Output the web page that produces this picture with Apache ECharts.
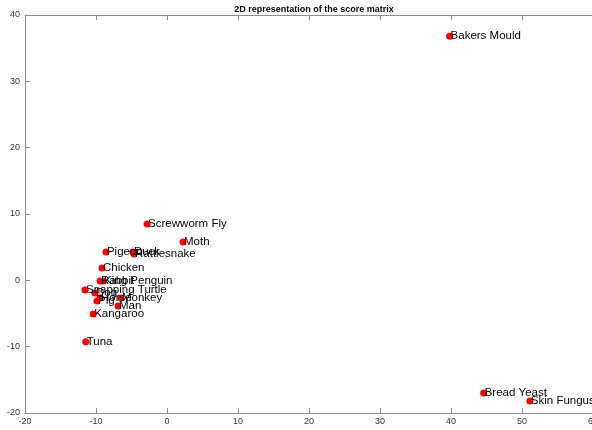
<!DOCTYPE html>
<html>
<head>
<meta charset="utf-8">
<script src="https://cdn.jsdelivr.net/npm/echarts@6/dist/echarts.min.js"></script>
<style>html,body{margin:0;padding:0;background:#fff}#c{width:592px;height:430px}</style>
</head>
<body>
<div id="c"></div>
<script>
var names = ['Bakers Mould','Screwworm Fly','Moth','Pigeon','Duck','Rattlesnake','Chicken','Rabbit','King Penguin','Snapping Turtle','Dog','Horse','Pig','Monkey','Man','Kangaroo','Tuna','Bread Yeast','Skin Fungus'];
var xs = [39.8,-2.8,2.25,-8.6,-4.8,-4.65,-9.16,-9.44,-9.0,-11.55,-10.14,-9.44,-9.86,-6.48,-6.9,-10.4,-11.45,44.6,51.1];
var ys = [36.8,8.48,5.77,4.26,4.26,3.96,1.85,-0.11,-0.1,-1.47,-1.92,-2.68,-3.13,-2.68,-3.88,-5.09,-9.27,-17.0,-18.2];
var xTicks = [-20,-10,0,10,20,30,40,50,60];
var yTicks = [-20,-10,0,10,20,30,40];
var title = '2D representation of the score matrix';

var data = names.map(function(n,i){return {name:n, value:[xs[i], ys[i]]};});
var chart = echarts.init(document.getElementById('c'), null, {renderer:'canvas'});
var axisColor = '#8c8c8c';
chart.setOption({
  animation:false,
  backgroundColor:'#fff',
  title:{text:title,left:309,textAlign:'center',top:0,textStyle:{fontSize:9,fontWeight:'bold',color:'#000',fontFamily:'Liberation Sans'}},
  grid:{left:25,top:15,width:568,height:398,containLabel:false,outerBoundsMode:'none'},
  xAxis:[{type:'value',min:xTicks[0],max:xTicks[xTicks.length-1],interval:10,
    axisLine:{onZero:false,lineStyle:{color:axisColor,width:1}},
    axisTick:{inside:true,length:5,lineStyle:{color:axisColor}},
    axisLabel:{color:'#333',fontSize:9,fontFamily:'Liberation Sans',margin:4},
    splitLine:{show:false}},
   {type:'value',position:'top',min:xTicks[0],max:xTicks[xTicks.length-1],interval:10,
    axisLine:{show:true,onZero:false,lineStyle:{color:axisColor,width:1}},
    axisTick:{inside:true,length:5,lineStyle:{color:axisColor}},
    axisLabel:{show:false},splitLine:{show:false}}],
  yAxis:[{type:'value',min:yTicks[0],max:yTicks[yTicks.length-1],interval:10,
    axisLine:{show:true,onZero:false,lineStyle:{color:axisColor,width:1}},
    axisTick:{show:true,inside:true,length:5,lineStyle:{color:axisColor}},
    axisLabel:{color:'#333',fontSize:9,fontFamily:'Liberation Sans',margin:5},
    splitLine:{show:false}}],
  series:[{type:'scatter',xAxisIndex:0,yAxisIndex:0,data:data,symbol:'circle',symbolSize:7,
    itemStyle:{color:'#ff0000',opacity:1},
    label:{show:true,position:'right',distance:-2.5,formatter:function(p){return p.name;},
      color:'#000',fontSize:11.5,fontFamily:'Liberation Sans'},
    labelLayout:{hideOverlap:false},
    emphasis:{disabled:true}}]
});
</script>
</body>
</html>
